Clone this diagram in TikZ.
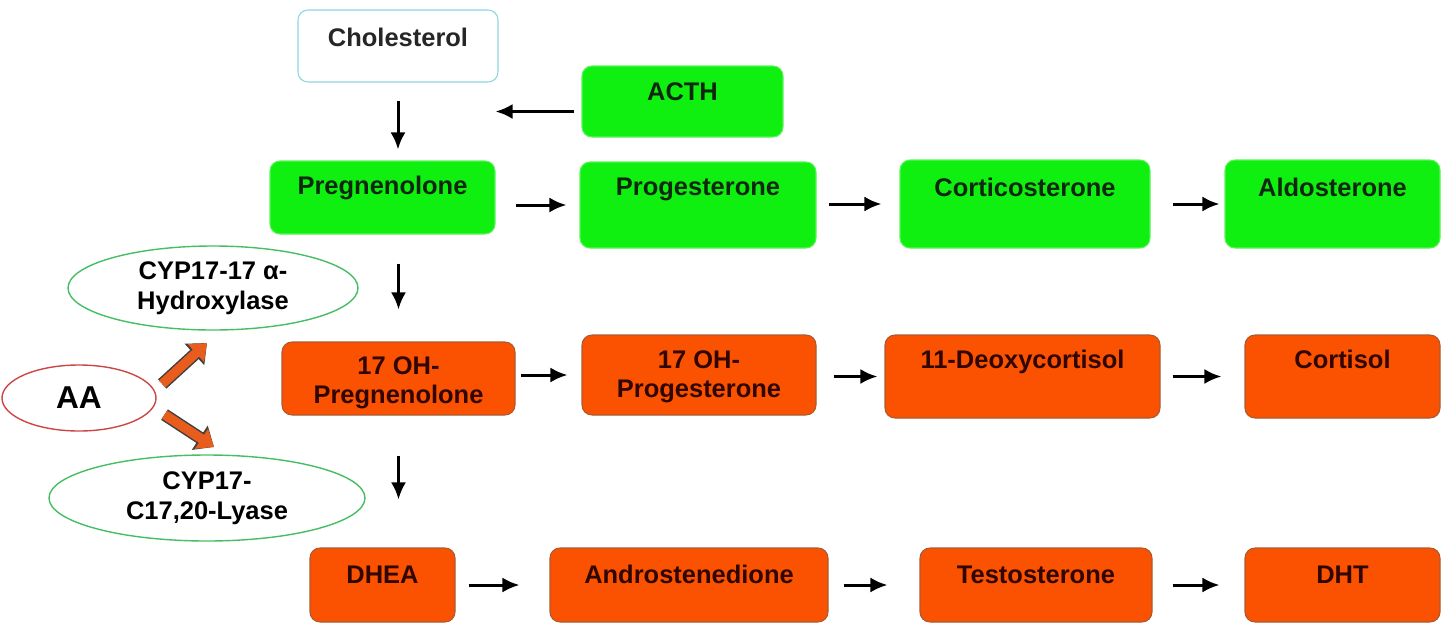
\documentclass[tikz,border=0pt]{standalone}
\usepackage{fontspec}
\setmainfont{Liberation Sans}
\usetikzlibrary{shapes.geometric,arrows.meta}

\definecolor{boxgreen}{RGB}{16,240,16}
\definecolor{boxorange}{RGB}{250,82,0}
\definecolor{orangeedge}{RGB}{170,90,50}
\definecolor{greentext}{RGB}{15,38,15}
\definecolor{orangetext}{RGB}{48,6,0}
\definecolor{cholcyan}{RGB}{140,215,222}
\definecolor{enzgreen}{RGB}{70,190,100}
\definecolor{aared}{RGB}{205,70,70}
\definecolor{fatorange}{RGB}{232,92,30}

\tikzset{
  stepbox/.style={rounded corners=0.2cm, inner sep=0pt, line width=0.6pt,
    font=\fontsize{14.5}{17}\selectfont\bfseries},
  sized/.style n args={3}{minimum width=#1*0.02cm, text height=#2*0.02cm, text depth=#3*0.02cm},
  greenbox/.style={stepbox, fill=boxgreen, draw=boxgreen!70!white, text=greentext},
  orangebox/.style={stepbox, fill=boxorange, draw=orangeedge, text=orangetext},
  enzyme/.style={ellipse, draw=enzgreen, line width=0.8pt, inner sep=0pt, align=center,
    font=\fontsize{14.5}{17}\selectfont\bfseries},
  arr/.style={-{Latex[length=0.34cm,width=0.3cm]}, line width=0.06cm},
  fat/.style={draw=fatorange, line width=0.19cm, shorten <=0.06cm,
    -{Triangle[length=0.3cm,width=0.46cm]},
    preaction={draw=black!75, line width=0.25cm, -{Triangle[length=0.34cm,width=0.56cm]}}}
}

\newcommand\twolines[2]{\begin{tabular}[t]{@{}c@{}}#1\\#2\end{tabular}}

\begin{document}
\begin{tikzpicture}[x=0.02cm,y=-0.02cm]
  \useasboundingbox (0,0) rectangle (1441,626);

  % top: cholesterol and ACTH
  \node[stepbox, draw=cholcyan, fill=white, text=black!85, sized={200}{36}{36}] (chol) at (398,46) {Cholesterol};
  \node[greenbox, sized={201}{34}{37}] (acth) at (682.5,101.5) {ACTH};

  % green row
  \node[greenbox, sized={225}{33}{40}] (preg) at (382.5,197.5) {Pregnenolone};
  \node[greenbox, sized={236}{33}{53}] (prog) at (698,205) {Progesterone};
  \node[greenbox, sized={250}{36}{52}] (cort) at (1025,204) {Corticosterone};
  \node[greenbox, sized={215}{36}{52}] (aldo) at (1332.5,204) {Aldosterone};

  % orange middle row
  \node[orangebox, sized={233}{32}{41}] (ohpreg) at (398.5,378.5) {\twolines{17 OH-}{Pregnenolone}};
  \node[orangebox, sized={234}{33}{47}] (ohprog) at (699,375) {\twolines{17 OH-}{Progesterone}};
  \node[orangebox, sized={275}{33}{50}] (deoxy) at (1022.5,376.5) {11-Deoxycortisol};
  \node[orangebox, sized={195}{33}{50}] (cortisol) at (1342.5,376.5) {Cortisol};

  % orange bottom row
  \node[orangebox, sized={145}{35}{39}] (dhea) at (382.5,585) {DHEA};
  \node[orangebox, sized={278}{35}{39}] (andro) at (689,585) {Androstenedione};
  \node[orangebox, sized={232}{35}{39}] (testo) at (1036,585) {Testosterone};
  \node[orangebox, sized={195}{35}{39}] (dht) at (1342.5,585) {DHT};

  % enzymes
  \node[enzyme, minimum width=290*0.02cm, minimum height=84*0.02cm] (hyd) at (213,288) {CYP17-17 α-\\Hydroxylase};
  \node[enzyme, minimum width=316*0.02cm, minimum height=86*0.02cm] (lyase) at (207,498) {CYP17-\\C17,20-Lyase};
  \node[ellipse, draw=aared, line width=0.8pt, inner sep=0pt, minimum width=154*0.02cm,
    minimum height=66*0.02cm, font=\fontsize{18}{20}\selectfont\bfseries] (aa) at (79,398) {AA};

  % vertical steps
  \draw[arr, shorten <=0.36cm, shorten >=0.22cm] (chol.south) -- (chol.south |- preg.north);
  \draw[arr, shorten <=0.58cm, shorten >=0.64cm] (ohpreg.north |- preg.south) -- (ohpreg.north);
  \draw[arr, shorten <=0.8cm, shorten >=0.96cm] (ohpreg.south) -- (ohpreg.south |- dhea.north);
  \draw[arr, shorten <=0.14cm, shorten >=-0.06cm] ([yshift=-0.2cm]acth.west) -- ([yshift=-0.2cm]acth.west -| chol.east);

  % horizontal steps
  \draw[arr, shorten <=0.4cm, shorten >=0.26cm] (preg.east |- prog.west) -- (prog.west);
  \draw[arr, shorten <=0.24cm, shorten >=0.36cm] (prog.east |- cort.west) -- (cort.west);
  \draw[arr, shorten <=0.44cm, shorten >=0.1cm] (cort.east |- aldo.west) -- (aldo.west);
  \draw[arr, shorten <=0.1cm, shorten >=0.28cm] (ohpreg.east |- ohprog.west) -- (ohprog.west);
  \draw[arr, shorten <=0.34cm, shorten >=0.14cm] (ohprog.east |- deoxy.west) -- (deoxy.west);
  \draw[arr, shorten <=0.24cm, shorten >=0.46cm] (deoxy.east |- cortisol.west) -- (cortisol.west);
  \draw[arr, shorten <=0.26cm, shorten >=0.6cm] (dhea.east |- andro.west) -- (andro.west);
  \draw[arr, shorten <=0.3cm, shorten >=0.64cm] (andro.east |- testo.west) -- (testo.west);
  \draw[arr, shorten <=0.4cm, shorten >=0.5cm] (testo.east |- dht.west) -- (dht.west);

  % AA to the two CYP17 activities
  \coordinate (hydtail) at (160,386);
  \coordinate (hydtip) at (207,343);
  \coordinate (lyasetail) at (162,413);
  \coordinate (lyasetip) at (214,447);
  \draw[fat] (hydtail) -- (hydtip);
  \draw[fat] (lyasetail) -- (lyasetip);
\end{tikzpicture}
\end{document}
